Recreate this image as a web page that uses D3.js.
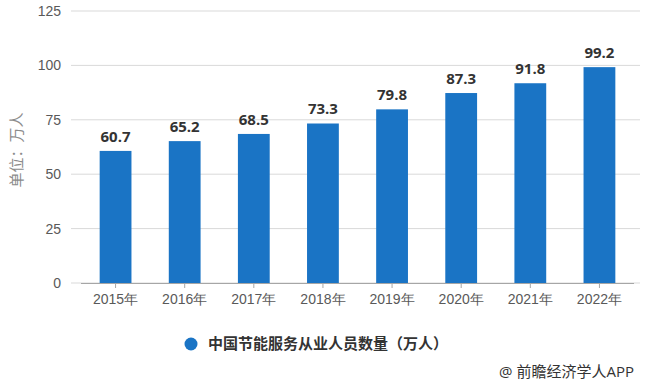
<!DOCTYPE html>
<html>
<head>
<meta charset="utf-8">
<script src="https://cdn.jsdelivr.net/npm/d3@7"></script>
<style>
  body { margin: 0; background: #fff; }
  svg { display: block; font-family: "Open Sans", "Noto Sans CJK SC", sans-serif; }
</style>
</head>
<body>
<div id="chart"></div>
<script>
// datos
const years = ['2015年', '2016年', '2017年', '2018年', '2019年', '2020年', '2021年', '2022年'];
const workers = [60.7, 65.2, 68.5, 73.3, 79.8, 87.3, 91.8, 99.2];
const yTicks = [0, 25, 50, 75, 100, 125];
const seriesName = '中国节能服务从业人员数量（万人）';

const width = 646;
const height = 386;

const svg = d3.select('#chart')
  .append('svg')
  .attr('width', width)
  .attr('height', height);

// escalas
const x = d3.scaleBand()
  .domain(years)
  .range([81, 634])
  .paddingInner(0.54)
  .paddingOuter(0.27);

const y = d3.scaleLinear()
  .domain([0, 125])
  .range([283, 11]);

// rejilla
svg.append('g')
  .selectAll('line')
  .data(yTicks)
  .enter()
  .append('line')
  .attr('x1', 71)
  .attr('x2', 640)
  .attr('y1', d => y(d))
  .attr('y2', d => y(d))
  .attr('stroke', '#d9d9d9')
  .attr('stroke-width', 1);

// eje y (solo etiquetas)
const yAxis = d3.axisLeft(y).tickValues(yTicks).tickSize(0).tickPadding(10);
svg.append('g')
  .attr('transform', 'translate(71,0)')
  .call(yAxis)
  .call(g => g.select('.domain').remove())
  .selectAll('text')
  .attr('fill', '#595959')
  .style('font-size', '14px');

// barras
svg.selectAll('.bar')
  .data(workers)
  .enter()
  .append('rect')
  .attr('class', 'bar')
  .attr('x', (d, i) => x(years[i]))
  .attr('width', x.bandwidth())
  .attr('y', d => y(d))
  .attr('height', d => y(0) - y(d))
  .attr('fill', '#1a74c5');

// etiquetas de valor
svg.selectAll('.val')
  .data(workers)
  .enter()
  .append('text')
  .attr('class', 'val')
  .attr('x', (d, i) => x(years[i]) + x.bandwidth() / 2)
  .attr('y', d => y(d) - 9)
  .attr('text-anchor', 'middle')
  .attr('fill', '#333')
  .style('font-size', '15px')
  .style('font-weight', 'bold')
  .text(d => d.toFixed(1));

// eje x
const xAxis = d3.axisBottom(x).tickSize(5).tickPadding(6);
const gx = svg.append('g')
  .attr('transform', `translate(0,${y(0)})`)
  .call(xAxis);
gx.select('.domain').attr('stroke', '#a6a6a6').attr('d', 'M81,0.5H634');
gx.selectAll('.tick line').attr('stroke', '#a6a6a6');
gx.selectAll('text')
  .attr('fill', '#595959')
  .style('font-size', '14px');

// titulo eje y
svg.append('text')
  .attr('transform', 'translate(22,150) rotate(-90)')
  .attr('text-anchor', 'middle')
  .attr('fill', '#8c8c8c')
  .style('font-size', '15px')
  .text('单位：万人');

// leyenda
const legend = svg.append('g').attr('transform', 'translate(191,344)');
legend.append('circle')
  .attr('r', 6.5)
  .attr('fill', '#1a74c5');
legend.append('text')
  .attr('x', 17)
  .attr('y', 5)
  .attr('fill', '#333')
  .style('font-size', '15px')
  .style('font-weight', 'bold')
  .text(seriesName);

// fuente
svg.append('text')
  .attr('x', 634)
  .attr('y', 377)
  .attr('text-anchor', 'end')
  .attr('fill', '#333')
  .style('font-size', '15px')
  .text('@ 前瞻经济学人APP');
</script>
</body>
</html>
